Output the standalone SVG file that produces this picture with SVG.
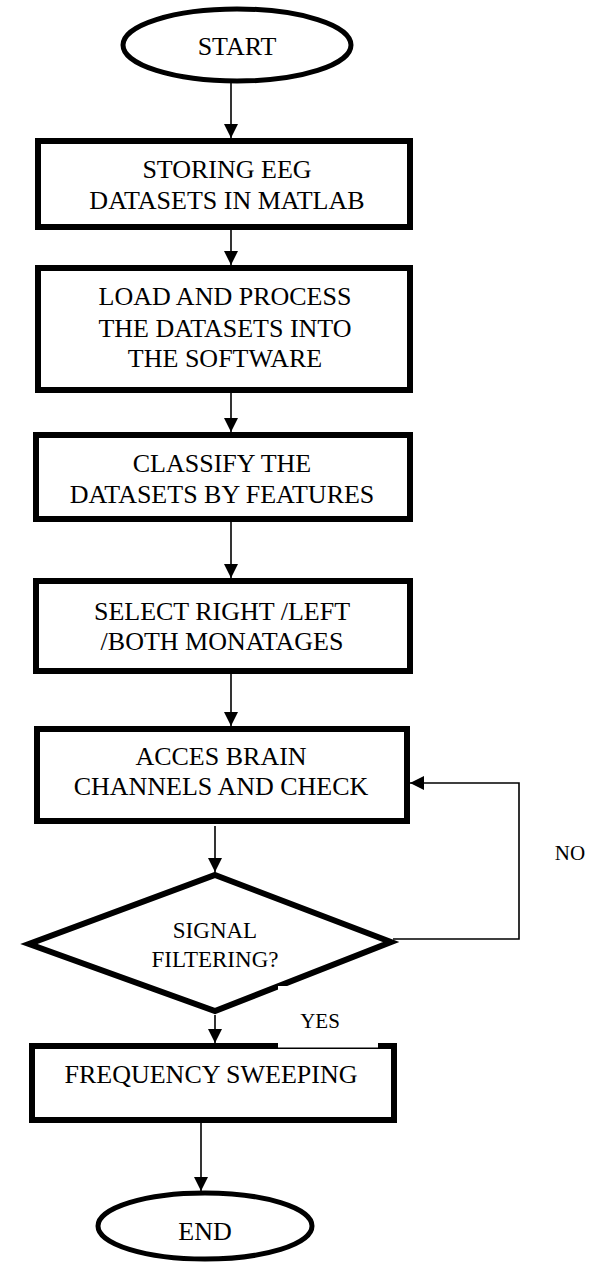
<svg xmlns="http://www.w3.org/2000/svg" width="589" height="1262" viewBox="0 0 589 1262">
  <defs>
    <marker id="arrow" viewBox="0 0 14 14" refX="14" refY="7" markerWidth="14" markerHeight="14" markerUnits="userSpaceOnUse" orient="auto">
      <path d="M0,0 L14,7 L0,14 z" fill="#000"/>
    </marker>
  </defs>
  <style>
    .shape{fill:#fff;stroke:#000;stroke-width:6;stroke-linejoin:miter}
    .term{fill:#fff;stroke:#000;stroke-width:5}
    .lbl{font-family:"Liberation Serif","Times New Roman","DejaVu Serif",serif;font-size:26px;fill:#000;text-anchor:middle}
    .dec{font-size:23px}
    .small{font-size:21px}
    .conn{fill:none;stroke:#000;stroke-width:1.6}
  </style>
  <rect width="589" height="1262" fill="#fff"/>

  <!-- process flow -->
  <g id="start">
    <ellipse class="term" cx="237" cy="45" rx="114" ry="36"/>
    <text class="lbl" x="237" y="55">START</text>
  </g>
  <g id="store">
    <rect class="shape" x="38" y="141" width="372" height="86"/>
    <text class="lbl" x="227" y="178">STORING EEG</text>
    <text class="lbl" x="227" y="209">DATASETS IN MATLAB</text>
  </g>
  <g id="load">
    <rect class="shape" x="38" y="268" width="372" height="122"/>
    <text class="lbl" x="225" y="305">LOAD AND PROCESS</text>
    <text class="lbl" x="225" y="337">THE DATASETS INTO</text>
    <text class="lbl" x="225" y="367">THE SOFTWARE</text>
  </g>
  <g id="classify">
    <rect class="shape" x="36" y="435" width="374" height="84"/>
    <text class="lbl" x="222" y="472">CLASSIFY THE</text>
    <text class="lbl" x="222" y="503">DATASETS BY FEATURES</text>
  </g>
  <g id="select">
    <rect class="shape" x="36" y="581" width="374" height="90"/>
    <text class="lbl" x="222" y="620">SELECT RIGHT /LEFT</text>
    <text class="lbl" x="222" y="650">/BOTH MONATAGES</text>
  </g>
  <g id="access">
    <rect class="shape" x="37" y="729" width="370" height="92"/>
    <text class="lbl" x="221" y="765">ACCES BRAIN</text>
    <text class="lbl" x="221" y="795">CHANNELS AND CHECK</text>
  </g>
  <g id="filter">
    <polygon class="shape" points="215,875 391,942 215,1011 29,944"/>
    <text class="lbl dec" x="215" y="938">SIGNAL</text>
    <text class="lbl dec" x="215" y="967">FILTERING?</text>
  </g>
  <g id="sweep">
    <rect class="shape" x="32" y="1046" width="362" height="74"/>
    <text class="lbl" x="211" y="1083">FREQUENCY SWEEPING</text>
  </g>
  <g id="end">
    <ellipse class="term" cx="205" cy="1226" rx="107" ry="33"/>
    <text class="lbl" x="205" y="1240">END</text>
  </g>

  <!-- connectors -->
  <g id="connectors">
    <line class="conn" x1="231" y1="83" x2="231" y2="138" marker-end="url(#arrow)"/>
    <line class="conn" x1="231" y1="230" x2="231" y2="265" marker-end="url(#arrow)"/>
    <line class="conn" x1="231" y1="393" x2="231" y2="432" marker-end="url(#arrow)"/>
    <line class="conn" x1="231" y1="522" x2="231" y2="578" marker-end="url(#arrow)"/>
    <line class="conn" x1="231" y1="674" x2="231" y2="726" marker-end="url(#arrow)"/>
    <line class="conn" x1="215" y1="826" x2="215" y2="872" marker-end="url(#arrow)"/>
    <line class="conn" x1="215" y1="1015" x2="215" y2="1043" marker-end="url(#arrow)"/>
    <line class="conn" x1="201" y1="1123" x2="201" y2="1191" marker-end="url(#arrow)"/>
    <polyline class="conn" points="393,939 519,939 519,783 410,783" marker-end="url(#arrow)"/>
  </g>

  <!-- branch labels -->
  <g id="label-yes">
    <rect x="278" y="986" width="100" height="61.5" fill="#fff"/>
    <text class="lbl small" x="320" y="1028">YES</text>
  </g>
  <g id="label-no">
    <text class="lbl small" x="570" y="860">NO</text>
  </g>
</svg>
